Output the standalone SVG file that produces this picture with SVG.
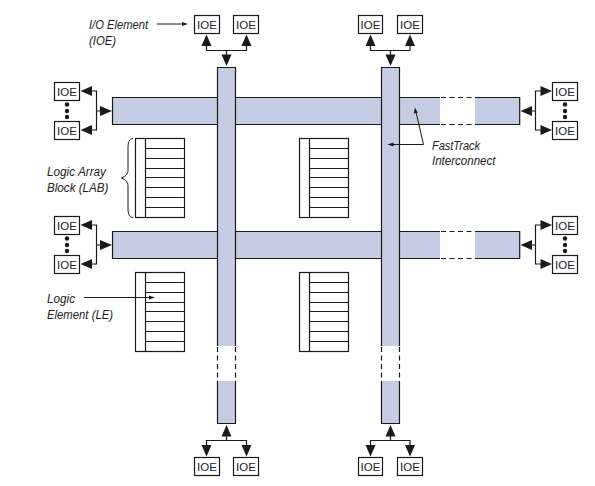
<svg xmlns="http://www.w3.org/2000/svg" width="595" height="486" viewBox="0 0 595 486">
<style>
.box{fill:#fff;stroke:#1a1a1a;stroke-width:1.2}
.bar{fill:#c5cce4}
.gap{fill:#fff}
.ln{fill:none;stroke:#1a1a1a;stroke-width:1.2}
.dash{fill:none;stroke:#1a1a1a;stroke-width:1.2;stroke-dasharray:5 3.5}
.thin{fill:none;stroke:#1a1a1a;stroke-width:1}
.ah{fill:#1a1a1a}
.dot{fill:#1a1a1a}
.ioe{font:11.5px "Liberation Sans",Arial,sans-serif;fill:#222;text-anchor:middle}
.lbl{font:italic 12.500px "Liberation Sans",Arial,sans-serif;fill:#222}
</style>
<g id="h-bars">
<g id="h-bar-1"><rect class="bar" x="112.5" y="97.5" width="407.5" height="27"/><rect class="gap" x="440" y="96" width="35" height="30"/>
<path class="ln" d="M440 97.5H112.5V124.5H440M475 97.5H519.7V124.5H475"/><path class="dash" d="M441 97.5H475M441 124.5H475"/></g>
<g id="h-bar-2"><rect class="bar" x="112.5" y="231.5" width="407.5" height="27"/><rect class="gap" x="440" y="230" width="35" height="30"/>
<path class="ln" d="M440 231.5H112.5V258.5H440M475 231.5H519.7V258.5H475"/><path class="dash" d="M441 231.5H475M441 258.5H475"/></g>
</g>
<g id="v-bars">
<g id="v-bar-1"><rect class="bar" x="217.5" y="67.5" width="18" height="356"/><rect class="gap" x="216" y="346" width="21" height="35"/>
<path class="ln" d="M217.5 346V67.5H235.5V346M217.5 381V423.5H235.5V381"/><path class="dash" d="M217.5 347V381M235.5 347V381"/></g>
<g id="v-bar-2"><rect class="bar" x="381.5" y="67.5" width="18" height="356"/><rect class="gap" x="380" y="346" width="21" height="35"/>
<path class="ln" d="M381.5 346V67.5H399.5V346M381.5 381V423.5H399.5V381"/><path class="dash" d="M381.5 347V381M399.5 347V381"/></g>
</g>
<g id="lab-1"><rect class="box" x="135.5" y="138.5" width="49" height="79"/><path class="ln" d="M145.5 138.5V217.5M145.5 148.5H184.5M145.5 158.5H184.5M145.5 168.5H184.5M145.5 177.5H184.5M145.5 187.5H184.5M145.5 197.5H184.5M145.5 207.5H184.5"/></g>
<g id="lab-2"><rect class="box" x="299.5" y="138.5" width="49" height="79"/><path class="ln" d="M309.5 138.5V217.5M309.5 148.5H348.5M309.5 158.5H348.5M309.5 168.5H348.5M309.5 177.5H348.5M309.5 187.5H348.5M309.5 197.5H348.5M309.5 207.5H348.5"/></g>
<g id="lab-3"><rect class="box" x="135.5" y="272.5" width="49" height="79"/><path class="ln" d="M145.5 272.5V351.5M145.5 282.5H184.5M145.5 292.5H184.5M145.5 302.5H184.5M145.5 311.5H184.5M145.5 321.5H184.5M145.5 331.5H184.5M145.5 341.5H184.5"/></g>
<g id="lab-4"><rect class="box" x="299.5" y="272.5" width="49" height="79"/><path class="ln" d="M309.5 272.5V351.5M309.5 282.5H348.5M309.5 292.5H348.5M309.5 302.5H348.5M309.5 311.5H348.5M309.5 321.5H348.5M309.5 331.5H348.5M309.5 341.5H348.5"/></g>
<g id="ioe-t1"><rect class="box" x="194.5" y="15.5" width="25" height="18"/><text class="ioe" x="207" y="28.5">IOE</text></g>
<g id="ioe-t2"><rect class="box" x="233.5" y="15.5" width="25" height="18"/><text class="ioe" x="246" y="28.5">IOE</text></g>
<g id="ioe-t3"><rect class="box" x="358.5" y="15.5" width="24" height="18"/><text class="ioe" x="370.5" y="28.5">IOE</text></g>
<g id="ioe-t4"><rect class="box" x="397.5" y="15.5" width="25" height="18"/><text class="ioe" x="410" y="28.5">IOE</text></g>
<g id="ioe-b1"><rect class="box" x="194.5" y="457.5" width="25" height="18"/><text class="ioe" x="207" y="470.5">IOE</text></g>
<g id="ioe-b2"><rect class="box" x="233.5" y="457.5" width="25" height="18"/><text class="ioe" x="246" y="470.5">IOE</text></g>
<g id="ioe-b3"><rect class="box" x="358.5" y="457.5" width="24" height="18"/><text class="ioe" x="370.5" y="470.5">IOE</text></g>
<g id="ioe-b4"><rect class="box" x="397.5" y="457.5" width="25" height="18"/><text class="ioe" x="410" y="470.5">IOE</text></g>
<g id="ioe-l1"><rect class="box" x="54.5" y="82.5" width="25" height="18"/><text class="ioe" x="67" y="95.5">IOE</text></g>
<g id="ioe-l2"><rect class="box" x="54.5" y="121.5" width="25" height="18"/><text class="ioe" x="67" y="134.5">IOE</text></g>
<g id="ioe-l3"><rect class="box" x="54.5" y="216.5" width="25" height="18"/><text class="ioe" x="67" y="229.5">IOE</text></g>
<g id="ioe-l4"><rect class="box" x="54.5" y="255.5" width="25" height="18"/><text class="ioe" x="67" y="268.5">IOE</text></g>
<g id="ioe-r1"><rect class="box" x="552.5" y="82.5" width="25" height="18"/><text class="ioe" x="565" y="95.5">IOE</text></g>
<g id="ioe-r2"><rect class="box" x="552.5" y="121.5" width="25" height="18"/><text class="ioe" x="565" y="134.5">IOE</text></g>
<g id="ioe-r3"><rect class="box" x="552.5" y="216.5" width="25" height="18"/><text class="ioe" x="565" y="229.5">IOE</text></g>
<g id="ioe-r4"><rect class="box" x="552.5" y="255.5" width="25" height="18"/><text class="ioe" x="565" y="268.5">IOE</text></g>
<g id="dots">
<circle class="dot" cx="67" cy="104.5" r="2.2"/><circle class="dot" cx="67" cy="111" r="2.2"/><circle class="dot" cx="67" cy="117" r="2.2"/>
<circle class="dot" cx="67" cy="238.5" r="2.2"/><circle class="dot" cx="67" cy="245" r="2.2"/><circle class="dot" cx="67" cy="251" r="2.2"/>
<circle class="dot" cx="565" cy="104.5" r="2.2"/><circle class="dot" cx="565" cy="111" r="2.2"/><circle class="dot" cx="565" cy="117" r="2.2"/>
<circle class="dot" cx="565" cy="238.5" r="2.2"/><circle class="dot" cx="565" cy="245" r="2.2"/><circle class="dot" cx="565" cy="251" r="2.2"/>
</g>
<g id="connectors">
<path class="ln" d="M206.5 46V50.5H246.5V46M226.5 50.5V55"/>
<path class="ah" d="M206.5 34.5L211.5 46H201.5ZM246.5 34.5L251.5 46H241.5ZM226.5 66L221.5 54.5H231.5Z"/>
<path class="ln" d="M370.5 46V50.5H410V46M390.5 50.5V55"/>
<path class="ah" d="M370.5 34.5L375.5 46H365.5ZM410 34.5L415 46H405ZM390.5 66L385.5 54.5H395.5Z"/>
<path class="ln" d="M206.5 445V440.5H246.5V445M226.5 440.5V436"/>
<path class="ah" d="M206.5 456.500L211.5 445H201.500ZM246.5 456.500L251.5 445H241.5ZM226.5 425L221.5 436.500H231.5Z"/>
<path class="ln" d="M370.5 445V440.5H410V445M390.5 440.5V436"/>
<path class="ah" d="M370.5 456.500L375.5 445H365.5ZM410 456.500L415 445H405ZM390.5 425L385.5 436.500H395.5Z"/>
<path class="ln" d="M92 91H96.500V130H92M96.500 111H101"/>
<path class="ah" d="M80.500 91L92 86V96ZM80.500 130L92 125V135ZM112 111L100 106V116Z"/>
<path class="ln" d="M92 225H96.500V264H92M96.500 245H101"/>
<path class="ah" d="M80.500 225L92 220V230ZM80.500 264L92 259V269ZM112 245L100 240V250Z"/>
<path class="ln" d="M541 91H535.500V130H541M535.500 111H531"/>
<path class="ah" d="M552 91L540.500 86V96ZM552 130L540.500 125V135ZM520.500 111L532 106V116Z"/>
<path class="ln" d="M541 225H535.500V264H541M535.500 245H531"/>
<path class="ah" d="M552 225L540.500 220V230ZM552 264L540.500 259V269ZM520.500 245L532 240V250Z"/>
<path class="thin" d="M157 24H184"/><path class="ah" d="M188 24L182 22V26Z"/>
<path class="thin" d="M84 297.500H151"/><path class="ah" d="M155 297.500L149 295.500V299.500Z"/>
<path class="thin" d="M391 144.500H423.500L416 112"/><path class="ah" d="M387.500 144.500L393.500 142.500V146.500ZM415 107.500L413.700 113.500L417.700 112.700Z"/>
<path class="thin" d="M133 138.500C129 139 128 142 128 148V170C128 174 126 176 121.500 178C126 180 128 182 128 186V208C128 214 129 217 133 217.500"/>
</g>
<g id="labels">
<text class="lbl" x="89" y="29" textLength="59" lengthAdjust="spacingAndGlyphs">I/O Element</text>
<text class="lbl" x="89" y="45" textLength="27" lengthAdjust="spacingAndGlyphs">(IOE)</text>
<text class="lbl" x="47" y="176" textLength="59" lengthAdjust="spacingAndGlyphs">Logic Array</text>
<text class="lbl" x="47" y="192" textLength="61.500" lengthAdjust="spacingAndGlyphs">Block (LAB)</text>
<text class="lbl" x="47" y="303" textLength="28" lengthAdjust="spacingAndGlyphs">Logic</text>
<text class="lbl" x="47" y="319" textLength="66" lengthAdjust="spacingAndGlyphs">Element (LE)</text>
<text class="lbl" x="432" y="150" textLength="48" lengthAdjust="spacingAndGlyphs">FastTrack</text>
<text class="lbl" x="432" y="165" textLength="63.500" lengthAdjust="spacingAndGlyphs">Interconnect</text>
</g>
</svg>
